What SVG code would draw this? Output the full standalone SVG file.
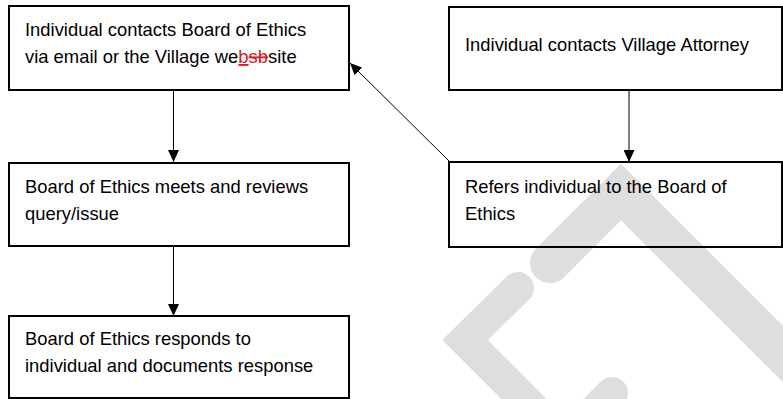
<svg xmlns="http://www.w3.org/2000/svg" width="783" height="399" viewBox="0 0 783 399">
  <defs>
    <style>
      .box { fill: none; stroke: #000; stroke-width: 2; }
      .lbl { font-family: "Liberation Sans", Arial, sans-serif; font-size: 18.4px; fill: #000; }
      .conn { stroke: #000; stroke-width: 1; fill: none; marker-end: url(#arrow); }
      .wm { fill: none; stroke: #dedede; stroke-linecap: round; stroke-linejoin: miter; }
      .ins { fill: #d0202a; text-decoration: underline; }
      .del { fill: #d0202a; text-decoration: line-through; }
    </style>
    <marker id="arrow" viewBox="0 0 12 11" markerWidth="12" markerHeight="11" refX="12" refY="5.5" orient="auto" markerUnits="userSpaceOnUse">
      <path d="M0,0 L12,5.5 L0,11 z" fill="#000"/>
    </marker>
  </defs>

  <g id="watermark">
    <path class="wm" stroke-width="40" d="M550,263 L621,192 L830,401"/>
    <path class="wm" stroke-width="32" stroke-linejoin="round" d="M518,288 L465,340 L540,415"/>
    <path class="wm" stroke-width="32" d="M612,393 L560,445"/>
  </g>

  <g id="connectors">
    <line class="conn" x1="173.5" y1="90" x2="173.5" y2="162"/>
    <line class="conn" x1="173.5" y1="246" x2="173.5" y2="316"/>
    <line class="conn" x1="629" y1="90" x2="629" y2="162"/>
    <line class="conn" x1="450" y1="162" x2="350" y2="63"/>
  </g>

  <g id="node-contact-board">
    <rect class="box" x="9" y="6" width="340" height="84"/>
    <text class="lbl" x="25" y="36">Individual contacts Board of Ethics</text>
    <text class="lbl" x="25" y="63">via email or the Village we<tspan class="ins">b</tspan><tspan class="del">sb</tspan>site</text>
  </g>

  <g id="node-contact-attorney">
    <rect class="box" x="449" y="7" width="333" height="83"/>
    <text class="lbl" x="465" y="51">Individual contacts Village Attorney</text>
  </g>

  <g id="node-meets-reviews">
    <rect class="box" x="9" y="163" width="340" height="83"/>
    <text class="lbl" x="25" y="193">Board of Ethics meets and reviews</text>
    <text class="lbl" x="25" y="220">query/issue</text>
  </g>

  <g id="node-refers">
    <rect class="box" x="449" y="162" width="333" height="85"/>
    <text class="lbl" x="465" y="193">Refers individual to the Board of</text>
    <text class="lbl" x="465" y="220">Ethics</text>
  </g>

  <g id="node-responds">
    <rect class="box" x="9" y="316" width="340" height="82"/>
    <text class="lbl" x="25" y="345">Board of Ethics responds to</text>
    <text class="lbl" x="25" y="372">individual and documents response</text>
  </g>
</svg>
